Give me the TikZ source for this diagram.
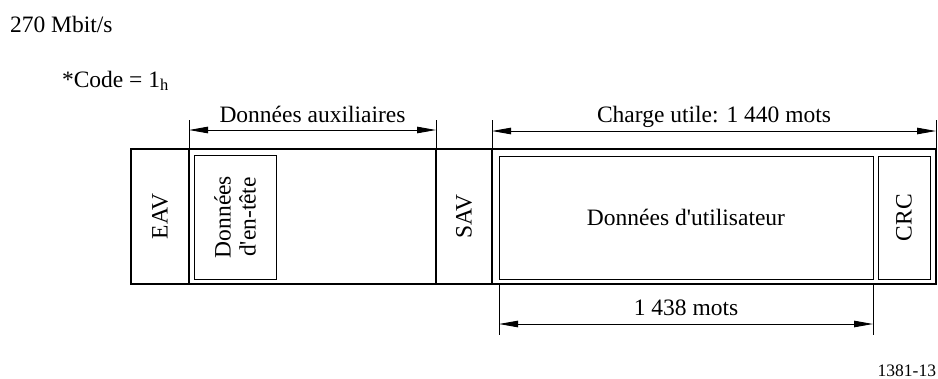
\documentclass[tikz,border=0pt]{standalone}
\usepackage{fontspec}
\setmainfont{Liberation Serif}
\usetikzlibrary{arrows.meta}
\begin{document}
\begin{tikzpicture}[x=1pt,y=-1pt,
  every node/.style={font=\fontsize{23.5}{25}\selectfont, inner sep=0pt, outer sep=0pt},
  cell/.style={draw, line width=1.1pt, anchor=north west, minimum height=135pt},
  inbox/.style={draw, line width=1pt, anchor=north west, minimum height=124pt},
  ext/.style={line width=0.9pt},
  dimline/.style={line width=0.9pt,
    {Triangle[length=19pt,width=6.5pt]}-{Triangle[length=19pt,width=6.5pt]}},
  dimlabel/.style={midway, anchor=base, yshift=#1},
  vlabel/.style={rotate=90, align=center},
  plain/.style={anchor=base west}
]
\useasboundingbox (0,0) rectangle (938,378);

% header texts
\node[plain] (rate) at (10,32) {270 Mbit/s};
\node[plain] (code) at (62,87) {*Code = 1\textsubscript{h}};

% frame cells
\node[cell, minimum width=58pt]  (eav) at (131,149) {};
\node[cell, minimum width=247pt] (aux) at (189,149) {};
\node[cell, minimum width=56pt]  (sav) at (436,149) {};
\node[cell, minimum width=444pt] (pay) at (492,149) {};

% inner boxes
\node[inbox, minimum width=82pt]  (hdr) at (194,155) {};
\node[inbox, minimum width=374pt, minimum height=123pt] (usr) at (499,156) {};
\node[inbox, minimum width=52pt, minimum height=123pt]  (crc) at (878,156) {};

% cell texts
\node[vlabel] (eavT) at (eav.center) {EAV};
\node[vlabel] (hdrT) at (hdr.center) {Données\\d\textquotesingle en-tête};
\node[vlabel] (savT) at (sav.center) {SAV};
\node (usrT) at (usr.center) {Données d\textquotesingle utilisateur};
\node[vlabel] (crcT) at (crc.center) {CRC};

% extension lines
\coordinate (e1) at (189,120);
\coordinate (e2) at (436,120);
\coordinate (e3) at (492,120);
\coordinate (e4) at (936,120);
\draw[ext] (e1) -- (aux.north west);
\draw[ext] (e2) -- (sav.north west);
\draw[ext] (e3) -- (pay.north west);
\draw[ext] (e4) -- (pay.north east);
\coordinate (b1) at (499,335);
\coordinate (b2) at (873,335);
\draw[ext] (pay.south -| usr.west) -- (b1);
\draw[ext] (pay.south -| usr.east) -- (b2);

% dimension arrows
\coordinate (a1) at (189,130);
\coordinate (a2) at (436,130);
\draw[dimline] (a1) -- node[dimlabel=8pt] (auxL) {Données auxiliaires} (a2);
\coordinate (c1) at (492,131);
\coordinate (c2) at (936,131);
\draw[dimline] (c1) -- node[dimlabel=9pt] (payL) {Charge utile: 1 440 mots} (c2);
\coordinate (d1) at (499,324);
\coordinate (d2) at (873,324);
\draw[dimline] (d1) -- node[dimlabel=9pt] (usrL) {1 438 mots} (d2);

% figure number
\node[anchor=base east, font=\fontsize{17.5}{20}\selectfont] (fig) at (936,376) {1381-13};
\end{tikzpicture}
\end{document}
